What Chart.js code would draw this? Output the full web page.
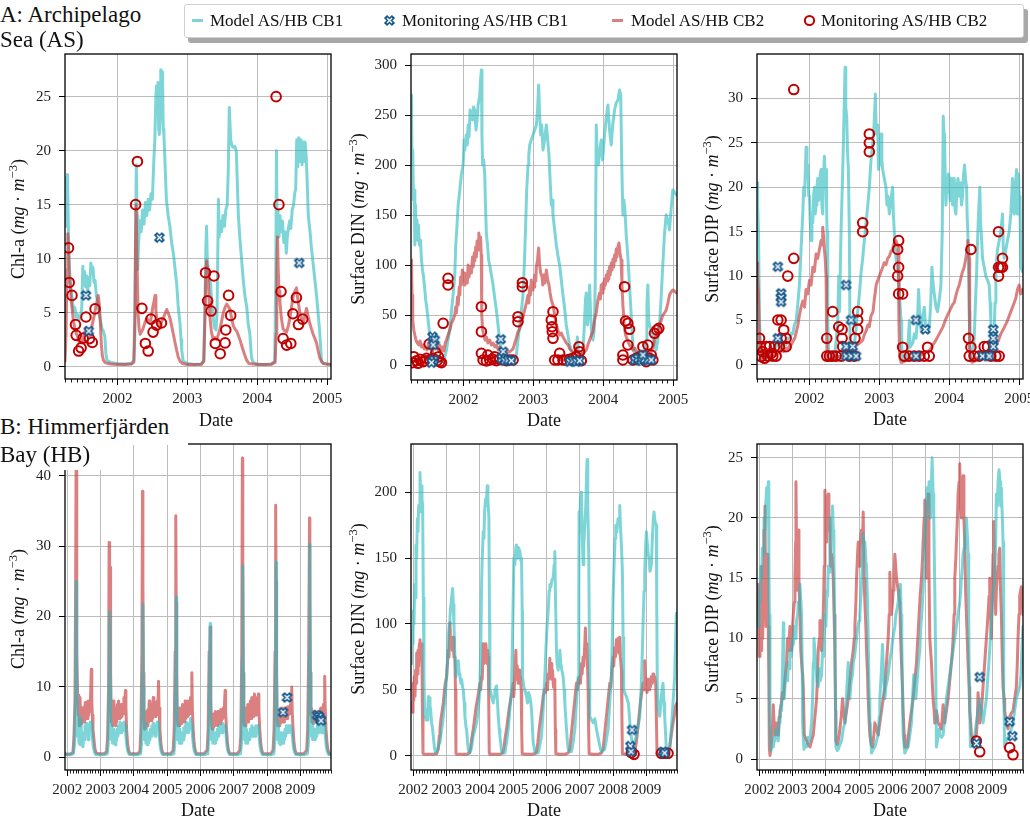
<!DOCTYPE html>
<html>
<head>
<meta charset="utf-8">
<script src="https://cdn.jsdelivr.net/npm/chart.js@4.4.0/dist/chart.umd.min.js"></script>
<style>
  body { margin: 0; background: #fff; width: 1030px; height: 820px; position: relative; overflow: hidden;
         font-family: "Liberation Serif", serif; color: #111; }
  canvas { position: absolute; }
  .ttl { position: absolute; left: 0; font-size: 23px; white-space: nowrap; z-index: 3; }
  .xlab { position: absolute; font-size: 18px; white-space: nowrap; transform: translate(-50%, -50%); z-index: 4; }
  .ylab { position: absolute; font-size: 18px; white-space: nowrap; transform: translate(-50%, -50%) rotate(-90deg); z-index: 2; }
  .ylab sup { font-size: 70%; line-height: 0; }
  #legend { position: absolute; left: 184px; top: 4px; width: 838px; height: 32px; border: 1px solid #d0d0d0;
            border-radius: 3px; background: #fff; box-shadow: 4px 5px 0 #a8a8a8; z-index: 3; }
  #legend .lt { position: absolute; top: 0; line-height: 31px; font-size: 17px; white-space: nowrap; }
  #legend .ln { position: absolute; top: 14px; width: 11px; height: 3px; }
  #legend svg { position: absolute; top: 9px; }
</style>
</head>
<body>

<div class="ttl" style="top:2px;line-height:26px">A: Archipelago</div>
<div class="ttl" style="top:27px;line-height:26px">Sea (AS)</div>
<div class="ttl" style="top:413px;width:188px;height:32px;line-height:28px;background:#fff">B: Himmerfjärden</div>
<div class="ttl" style="top:445px;width:103px;height:25px;line-height:20px;background:#fff">Bay (HB)</div>

<div id="legend">
  <div class="ln" style="left:7px;background:rgba(40,185,190,0.6)"></div>
  <span class="lt" style="left:25px">Model AS/HB CB1</span>
  <svg width="13" height="13" style="left:198px"><path d="M2.5 2.5L10.5 10.5M10.5 2.5L2.5 10.5" stroke="#15588a" stroke-width="4.5"/><path d="M4 4L9 9M9 4L4 9" stroke="#fff" stroke-width="1.3"/></svg>
  <span class="lt" style="left:217px">Monitoring AS/HB CB1</span>
  <div class="ln" style="left:427px;background:rgba(200,60,60,0.65)"></div>
  <span class="lt" style="left:446px">Model AS/HB CB2</span>
  <svg width="13" height="13" style="left:618px"><circle cx="6.5" cy="6.5" r="4.6" fill="none" stroke="#c00000" stroke-width="2"/></svg>
  <span class="lt" style="left:636px">Monitoring AS/HB CB2</span>
</div>

<div class="xlab" style="left:216px;top:420px">Date</div>

<div class="ylab" style="left:18px;top:219px">Chl-a (<i>mg</i> · <i>m</i><sup>−3</sup>)</div>
<div class="ylab" style="left:358px;top:219px">Surface DIN (<i>mg</i> · <i>m</i><sup>−3</sup>)</div>
<div class="ylab" style="left:712px;top:219px">Surface DIP (<i>mg</i> · <i>m</i><sup>−3</sup>)</div>
<div class="ylab" style="left:18px;top:609px">Chl-a (<i>mg</i> · <i>m</i><sup>−3</sup>)</div>
<div class="ylab" style="left:358px;top:609px">Surface DIN (<i>mg</i> · <i>m</i><sup>−3</sup>)</div>
<div class="ylab" style="left:712px;top:609px">Surface DIP (<i>mg</i> · <i>m</i><sup>−3</sup>)</div>

<script>
// ---- tick labels ----
const topYears = [2002, 2003, 2004, 2005];
const bottomYears = [2002, 2003, 2004, 2005, 2006, 2007, 2008, 2009];
const asChlTicks = [0, 5, 10, 15, 20, 25];
const asDinTicks = [0, 50, 100, 150, 200, 250, 300];
const asDipTicks = [0, 5, 10, 15, 20, 25, 30];
const hbChlTicks = [0, 10, 20, 30, 40];
const hbDinTicks = [0, 50, 100, 150, 200];
const hbDipTicks = [0, 5, 10, 15, 20, 25];

// ---- A: Archipelago Sea, [decimal year, value] ----
const asChlCb1 = [[2001.25,13],[2001.26,17.5],[2001.27,16.5],[2001.285,17.8],[2001.30,12],[2001.315,9],[2001.33,7.5],[2001.35,6.5],[2001.37,5.2],[2001.39,5.5],[2001.41,4.6],[2001.43,4.8],[2001.45,4.3],[2001.47,4.5],[2001.49,5.5],[2001.505,9.3],[2001.515,7.8],[2001.53,8.8],[2001.545,7.4],[2001.56,8.4],[2001.575,7.0],[2001.59,8.2],[2001.605,7.5],[2001.62,9.6],[2001.635,8.8],[2001.65,9.2],[2001.665,7.8],[2001.68,8.0],[2001.70,6.5],[2001.72,6.0],[2001.74,4.8],[2001.76,4.2],[2001.78,3.5],[2001.80,3.3],[2001.82,2.8],[2001.835,1.2],[2001.85,0.6],[2001.90,0.4],[2002.0,0.3],[2002.1,0.25],[2002.2,0.3],[2002.235,0.6],[2002.25,3],[2002.26,12],[2002.27,18.7],[2002.28,14],[2002.29,9],[2002.30,11],[2002.32,13.5],[2002.34,12.5],[2002.36,14.5],[2002.38,13.2],[2002.40,15.2],[2002.42,14],[2002.44,15.5],[2002.46,14.5],[2002.48,16],[2002.50,15.5],[2002.52,19],[2002.535,21],[2002.55,25],[2002.56,26],[2002.57,24.5],[2002.58,26.3],[2002.59,22],[2002.60,21.5],[2002.61,23],[2002.62,27.5],[2002.635,25],[2002.645,27.3],[2002.655,22],[2002.665,21.5],[2002.68,19],[2002.70,15.5],[2002.725,14],[2002.75,13],[2002.775,11.5],[2002.80,10.5],[2002.825,9],[2002.85,7.5],[2002.87,5.5],[2002.895,4],[2002.91,2.5],[2002.92,1.5],[2002.94,0.5],[2003.0,0.3],[2003.1,0.2],[2003.2,0.25],[2003.235,0.5],[2003.25,5],[2003.265,11],[2003.275,13],[2003.285,10],[2003.30,9],[2003.315,8],[2003.33,7.8],[2003.35,6],[2003.37,4.5],[2003.39,3.6],[2003.41,3.4],[2003.425,5],[2003.445,15.5],[2003.455,12],[2003.47,13.5],[2003.49,12.5],[2003.51,14],[2003.53,13],[2003.55,14.5],[2003.57,15],[2003.585,18],[2003.60,24],[2003.62,21],[2003.64,20.4],[2003.66,20.3],[2003.68,20.4],[2003.70,20],[2003.715,17],[2003.73,14],[2003.75,12],[2003.775,10],[2003.80,8],[2003.825,6.5],[2003.85,5.5],[2003.87,4],[2003.895,3],[2003.91,1.5],[2003.92,0.8],[2003.94,0.4],[2004.0,0.25],[2004.1,0.2],[2004.2,0.25],[2004.25,0.5],[2004.265,8],[2004.275,20],[2004.285,12],[2004.295,14.5],[2004.31,12],[2004.325,14],[2004.34,12.5],[2004.36,13.5],[2004.38,11.5],[2004.40,12.5],[2004.415,10.5],[2004.43,12],[2004.45,13],[2004.465,13.5],[2004.48,12.8],[2004.50,14.5],[2004.52,15],[2004.535,16],[2004.55,16.5],[2004.565,21],[2004.58,18.5],[2004.595,21.2],[2004.61,19],[2004.625,21],[2004.64,18.7],[2004.655,20.8],[2004.67,19],[2004.685,20.8],[2004.70,19.5],[2004.715,17],[2004.73,14],[2004.755,12.5],[2004.775,11],[2004.80,9.5],[2004.825,8],[2004.85,6.5],[2004.87,5],[2004.89,3.5],[2004.905,2],[2004.92,0.5],[2004.95,0.3],[2005.05,0.2]];
const asChlCb2 = [[2001.25,0.5],[2001.265,3],[2001.28,9],[2001.29,12.3],[2001.30,11],[2001.31,8.5],[2001.325,7.5],[2001.34,6],[2001.355,5.2],[2001.37,4.2],[2001.39,3.6],[2001.41,3.1],[2001.43,2.8],[2001.45,2.3],[2001.47,2.5],[2001.49,2.2],[2001.51,2.7],[2001.53,3.1],[2001.55,3.6],[2001.57,3.2],[2001.59,3.5],[2001.61,2.9],[2001.63,3.6],[2001.65,4.2],[2001.67,4.8],[2001.69,5.5],[2001.71,6.1],[2001.725,6.6],[2001.74,5.8],[2001.755,4.2],[2001.77,2],[2001.785,1],[2001.80,0.6],[2001.83,0.35],[2001.9,0.25],[2002.0,0.2],[2002.1,0.2],[2002.2,0.25],[2002.235,0.4],[2002.25,5],[2002.26,12],[2002.267,15],[2002.28,10],[2002.295,5],[2002.31,3.5],[2002.325,3],[2002.35,3.3],[2002.37,3.6],[2002.395,4.1],[2002.42,4.5],[2002.445,4.2],[2002.467,4],[2002.49,4.8],[2002.505,5.5],[2002.52,5.9],[2002.538,6.6],[2002.55,5.2],[2002.562,4.5],[2002.585,4],[2002.61,3.8],[2002.635,4.2],[2002.657,4.5],[2002.68,4.9],[2002.705,5.3],[2002.73,4.9],[2002.752,4.5],[2002.775,3.8],[2002.80,3],[2002.825,2.2],[2002.848,1.5],[2002.87,0.9],[2002.895,0.5],[2002.93,0.3],[2003.0,0.2],[2003.1,0.2],[2003.2,0.22],[2003.235,0.5],[2003.25,4],[2003.265,8.5],[2003.276,9.8],[2003.29,8.8],[2003.30,8],[2003.312,6],[2003.324,4.5],[2003.345,3.2],[2003.37,2.5],[2003.395,2.7],[2003.42,2.5],[2003.445,3],[2003.467,3.5],[2003.49,4.2],[2003.514,5],[2003.54,5.5],[2003.562,5.8],[2003.585,5.6],[2003.61,5.3],[2003.635,4.5],[2003.657,3.8],[2003.68,3.5],[2003.705,3.3],[2003.73,2.9],[2003.752,2.5],[2003.775,2],[2003.80,1.5],[2003.825,1],[2003.848,0.6],[2003.88,0.3],[2004.0,0.2],[2004.1,0.2],[2004.2,0.22],[2004.255,0.4],[2004.27,3],[2004.28,9],[2004.29,12],[2004.30,9],[2004.312,7],[2004.324,6],[2004.345,4.5],[2004.37,3.5],[2004.395,3.3],[2004.42,3.2],[2004.445,3.8],[2004.467,4.5],[2004.49,5.5],[2004.514,6.5],[2004.54,7],[2004.562,7.3],[2004.585,6],[2004.61,5],[2004.635,4.4],[2004.657,4],[2004.68,4.7],[2004.705,5.4],[2004.73,4.6],[2004.752,4],[2004.775,3.5],[2004.80,3],[2004.825,2.6],[2004.848,2.2],[2004.87,1.5],[2004.895,0.8],[2004.92,0.5],[2004.943,0.3],[2005.05,0.2]];
const asChlObsCb1 = [[2001.55,6.6],[2001.59,3.3],[2002.60,11.95],[2004.60,9.6]];
const asChlObsCb2 = [[2001.30,11.0],[2001.31,7.8],[2001.35,6.6],[2001.40,3.9],[2001.41,2.9],[2001.445,1.45],[2001.48,1.75],[2001.51,2.65],[2001.55,4.6],[2001.60,2.6],[2001.64,2.25],[2001.68,5.35],[2002.26,15],[2002.286,19],[2002.35,5.4],[2002.40,2.15],[2002.44,1.45],[2002.48,4.4],[2002.51,3.2],[2002.56,3.85],[2002.63,4.05],[2003.26,8.7],[2003.29,6.1],[2003.34,5.15],[2003.38,8.4],[2003.40,2.15],[2003.47,1.2],[2003.54,2.2],[2003.55,3.4],[2003.59,6.6],[2003.62,4.75],[2004.27,25],[2004.31,15],[2004.34,6.95],[2004.37,2.6],[2004.42,2.0],[2004.48,2.15],[2004.51,4.9],[2004.56,6.4],[2004.59,3.9],[2004.65,4.4]];

const asDinCb1 = [[2001.25,240],[2001.257,270],[2001.265,200],[2001.275,215],[2001.285,165],[2001.295,175],[2001.305,120],[2001.315,160],[2001.325,125],[2001.335,145],[2001.345,130],[2001.355,140],[2001.37,120],[2001.385,125],[2001.40,105],[2001.415,95],[2001.43,88],[2001.448,75],[2001.46,65],[2001.475,58],[2001.495,45],[2001.51,35],[2001.525,28],[2001.54,20],[2001.555,14],[2001.57,9],[2001.60,6],[2001.63,4],[2001.66,3],[2001.69,5],[2001.71,3],[2001.735,8],[2001.757,15],[2001.78,25],[2001.805,35],[2001.83,55],[2001.852,70],[2001.876,90],[2001.89,120],[2001.90,130],[2001.925,160],[2001.948,175],[2001.97,190],[2001.995,200],[2002.01,225],[2002.02,215],[2002.04,230],[2002.055,220],[2002.067,240],[2002.08,228],[2002.095,255],[2002.114,250],[2002.13,245],[2002.145,258],[2002.162,255],[2002.18,235],[2002.195,245],[2002.21,260],[2002.233,270],[2002.245,285],[2002.257,295],[2002.265,230],[2002.275,200],[2002.29,205],[2002.305,190],[2002.315,160],[2002.329,130],[2002.345,120],[2002.36,105],[2002.376,100],[2002.40,90],[2002.424,80],[2002.445,68],[2002.471,55],[2002.495,40],[2002.519,25],[2002.54,15],[2002.567,10],[2002.59,8],[2002.614,8],[2002.64,6],[2002.662,5],[2002.685,3],[2002.71,3],[2002.735,6],[2002.757,10],[2002.78,25],[2002.805,40],[2002.83,55],[2002.852,70],[2002.865,90],[2002.876,110],[2002.89,140],[2002.905,175],[2002.924,200],[2002.935,210],[2002.948,220],[2002.97,225],[2002.995,230],[2003.02,235],[2003.043,240],[2003.06,255],[2003.076,280],[2003.09,250],[2003.105,230],[2003.12,240],[2003.138,215],[2003.16,225],[2003.186,240],[2003.205,225],[2003.224,210],[2003.24,185],[2003.257,160],[2003.27,165],[2003.281,150],[2003.305,135],[2003.329,120],[2003.35,110],[2003.376,100],[2003.40,85],[2003.424,70],[2003.45,55],[2003.471,40],[2003.495,30],[2003.519,20],[2003.545,14],[2003.567,10],[2003.59,12],[2003.614,15],[2003.63,28],[2003.645,12],[2003.662,5],[2003.685,8],[2003.71,15],[2003.73,40],[2003.745,65],[2003.757,72],[2003.775,40],[2003.79,55],[2003.805,80],[2003.82,50],[2003.835,30],[2003.852,25],[2003.87,35],[2003.885,80],[2003.90,240],[2003.915,205],[2003.93,200],[2003.95,215],[2003.971,225],[2003.99,205],[2004.019,230],[2004.04,245],[2004.067,260],[2004.09,235],[2004.114,220],[2004.135,240],[2004.162,255],[2004.185,262],[2004.21,265],[2004.233,275],[2004.25,270],[2004.265,200],[2004.281,150],[2004.295,165],[2004.31,155],[2004.329,130],[2004.35,110],[2004.376,80],[2004.40,50],[2004.424,20],[2004.45,10],[2004.471,5],[2004.495,4],[2004.519,3],[2004.545,5],[2004.567,5],[2004.59,15],[2004.614,25],[2004.625,60],[2004.638,80],[2004.65,45],[2004.662,40],[2004.685,35],[2004.71,30],[2004.735,20],[2004.757,15],[2004.78,25],[2004.805,40],[2004.83,70],[2004.852,100],[2004.875,130],[2004.90,150],[2004.925,145],[2004.948,135],[2004.97,155],[2004.995,175],[2005.05,170]];
const asDinCb2 = [[2001.25,60],[2001.257,105],[2001.265,70],[2001.275,45],[2001.29,35],[2001.305,30],[2001.32,25],[2001.34,22],[2001.36,20],[2001.38,24],[2001.40,18],[2001.42,20],[2001.44,16],[2001.46,18],[2001.48,15],[2001.50,22],[2001.52,17],[2001.54,20],[2001.56,14],[2001.58,25],[2001.60,18],[2001.62,22],[2001.64,15],[2001.66,20],[2001.68,14],[2001.70,18],[2001.72,14],[2001.74,22],[2001.757,25],[2001.78,30],[2001.805,35],[2001.83,42],[2001.852,45],[2001.876,50],[2001.89,58],[2001.90,52],[2001.915,68],[2001.925,60],[2001.94,78],[2001.948,70],[2001.96,88],[2001.97,80],[2001.985,95],[2001.995,85],[2002.01,92],[2002.02,80],[2002.04,88],[2002.055,82],[2002.067,100],[2002.08,88],[2002.095,98],[2002.114,92],[2002.13,108],[2002.14,98],[2002.155,112],[2002.162,104],[2002.175,118],[2002.185,108],[2002.195,124],[2002.21,115],[2002.22,132],[2002.233,120],[2002.245,128],[2002.255,110],[2002.262,50],[2002.275,35],[2002.29,30],[2002.31,25],[2002.33,28],[2002.35,22],[2002.376,25],[2002.40,20],[2002.424,22],[2002.45,18],[2002.471,20],[2002.50,15],[2002.52,18],[2002.55,12],[2002.58,14],[2002.614,12],[2002.64,14],[2002.662,13],[2002.69,15],[2002.71,16],[2002.735,22],[2002.757,27],[2002.78,33],[2002.805,36],[2002.83,42],[2002.852,48],[2002.876,55],[2002.90,62],[2002.924,70],[2002.935,62],[2002.948,78],[2002.96,70],[2002.97,85],[2002.985,75],[2002.995,82],[2003.01,78],[2003.02,90],[2003.035,84],[2003.043,98],[2003.06,105],[2003.076,117],[2003.09,100],[2003.105,92],[2003.125,88],[2003.135,80],[2003.145,90],[2003.165,82],[2003.186,95],[2003.205,85],[2003.224,80],[2003.24,72],[2003.257,65],[2003.281,60],[2003.305,50],[2003.329,40],[2003.35,35],[2003.376,30],[2003.40,32],[2003.424,28],[2003.45,25],[2003.471,22],[2003.50,20],[2003.52,16],[2003.55,14],[2003.58,12],[2003.61,15],[2003.64,12],[2003.67,10],[2003.70,12],[2003.73,13],[2003.757,15],[2003.78,20],[2003.805,25],[2003.83,30],[2003.852,33],[2003.876,45],[2003.90,52],[2003.924,65],[2003.948,72],[2003.96,66],[2003.971,80],[2003.985,72],[2003.995,82],[2004.01,76],[2004.019,86],[2004.03,80],[2004.043,90],[2004.055,84],[2004.067,94],[2004.08,86],[2004.09,98],[2004.10,90],[2004.114,102],[2004.125,95],[2004.14,106],[2004.15,98],[2004.162,110],[2004.175,104],[2004.185,116],[2004.195,108],[2004.21,118],[2004.225,122],[2004.24,112],[2004.255,105],[2004.268,80],[2004.281,60],[2004.30,40],[2004.32,30],[2004.345,25],[2004.376,20],[2004.40,18],[2004.424,15],[2004.45,17],[2004.471,14],[2004.50,13],[2004.53,12],[2004.56,14],[2004.59,11],[2004.614,10],[2004.64,12],[2004.662,10],[2004.685,13],[2004.71,18],[2004.735,25],[2004.757,30],[2004.78,35],[2004.805,40],[2004.83,45],[2004.852,50],[2004.876,52],[2004.90,55],[2004.925,62],[2004.948,70],[2004.97,73],[2004.995,75],[2005.05,72]];
const asDinObsCb1 = [[2001.557,28.3],[2001.59,25],[2001.567,20],[2001.576,5],[2001.543,2.3],[2002.533,25.7],[2002.567,13.3],[2002.543,6.7],[2002.59,4.3],[2002.638,5],[2002.686,4.3],[2003.519,3.3],[2003.567,4.3],[2003.614,3.3],[2003.662,4.3],[2004.448,5],[2004.495,6.7],[2004.543,4.3],[2004.59,5.7],[2004.638,5],[2004.686,5],[2004.567,10]];
const asDinObsCb2 = [[2001.51,21],[2001.605,12.3],[2001.71,41.7],[2001.78,86.7],[2001.78,80],[2001.66,3.3],[2001.33,4.3],[2001.376,5.7],[2001.424,3.3],[2001.471,6.7],[2001.29,8.3],[2001.27,2.3],[2001.35,1.7],[2001.448,4.3],[2001.52,5],[2001.567,6.7],[2001.624,4.3],[2001.643,8.3],[2001.686,2.3],[2002.257,58.3],[2002.257,33.3],[2002.257,11.7],[2002.281,5],[2002.329,4],[2002.376,5],[2002.424,5.7],[2002.471,4.3],[2002.519,5.7],[2002.567,6.7],[2002.614,4.3],[2002.662,5],[2002.71,5],[2002.78,48.3],[2002.78,43.3],[2002.843,82.3],[2002.843,78.3],[2002.35,10],[2002.448,8.3],[2003.281,53.3],[2003.257,45],[2003.267,38.3],[2003.271,33.3],[2003.281,26.7],[2003.305,5],[2003.352,5],[2003.376,11.7],[2003.424,5],[2003.471,5],[2003.519,5.7],[2003.567,6.7],[2003.614,8.3],[2003.652,18.3],[2003.662,13.3],[2003.686,4.3],[2004.305,78.3],[2004.319,44],[2004.352,41.7],[2004.376,35.7],[2004.352,20],[2004.281,10],[2004.281,5],[2004.424,5],[2004.471,6.7],[2004.519,8.3],[2004.567,18.3],[2004.638,20],[2004.662,6.7],[2004.71,5],[2004.733,31.7],[2004.767,35],[2004.795,36.7],[2004.614,3.3],[2004.686,10]];

const asDipCb1 = [[2001.25,20.5],[2001.26,18],[2001.271,15],[2001.286,5],[2001.30,2],[2001.333,0.8],[2001.36,1.2],[2001.381,0.8],[2001.405,1.3],[2001.429,1],[2001.45,1.6],[2001.476,1.5],[2001.50,2.2],[2001.524,2],[2001.55,2.8],[2001.571,2.5],[2001.595,1.8],[2001.619,2],[2001.645,2.6],[2001.667,2.3],[2001.69,3],[2001.714,3],[2001.74,3.6],[2001.762,3.5],[2001.785,4.5],[2001.81,5],[2001.835,7],[2001.857,9],[2001.88,13],[2001.905,17],[2001.918,20],[2001.93,19],[2001.952,24.5],[2001.965,22],[2001.976,22.5],[2001.99,19],[2002.0,19],[2002.012,16],[2002.024,14],[2002.036,16.5],[2002.048,16],[2002.06,19],[2002.071,20],[2002.083,17],[2002.095,18],[2002.107,20],[2002.119,21],[2002.131,18.5],[2002.143,19],[2002.155,21.5],[2002.167,22],[2002.178,18],[2002.19,17],[2002.202,21],[2002.214,23.5],[2002.226,21],[2002.238,22],[2002.245,18],[2002.252,15],[2002.262,5],[2002.276,1],[2002.31,0.5],[2002.335,0.8],[2002.357,1],[2002.38,2.5],[2002.405,5],[2002.42,10],[2002.43,6],[2002.452,15],[2002.47,20],[2002.486,25],[2002.51,33.5],[2002.52,29],[2002.533,28],[2002.545,24],[2002.557,22],[2002.571,15],[2002.581,2.5],[2002.595,1],[2002.619,1.5],[2002.645,2.5],[2002.667,4],[2002.69,6],[2002.715,8],[2002.74,10.5],[2002.762,12],[2002.785,14],[2002.81,16],[2002.835,18],[2002.857,20],[2002.88,23],[2002.905,25],[2002.925,27],[2002.943,30.5],[2002.955,26],[2002.976,27],[2002.988,22],[2003.0,24],[2003.012,22.5],[2003.024,26],[2003.036,23],[2003.048,22],[2003.07,21],[2003.095,20],[2003.11,18],[2003.125,19],[2003.143,17],[2003.165,18.5],[2003.19,20],[2003.2,17],[2003.214,15],[2003.225,13],[2003.238,12],[2003.255,11],[2003.276,10],[2003.295,7],[2003.31,5],[2003.32,2],[2003.333,1],[2003.355,0.5],[2003.381,0.5],[2003.405,1.5],[2003.429,5],[2003.44,2],[2003.452,2],[2003.48,2.5],[2003.50,3.5],[2003.524,3],[2003.545,5],[2003.562,8.5],[2003.575,6],[2003.595,4],[2003.62,5.5],[2003.643,6.5],[2003.66,4.5],[2003.676,4],[2003.695,4.5],[2003.714,4],[2003.735,7],[2003.752,11],[2003.77,9],[2003.786,8],[2003.81,6.5],[2003.833,6],[2003.86,7.5],[2003.881,9],[2003.9,15],[2003.914,28],[2003.925,26],[2003.933,25],[2003.945,20],[2003.952,18],[2003.965,20],[2003.976,19.5],[2003.988,21.5],[2004.0,21],[2004.012,18.5],[2004.024,19],[2004.036,21],[2004.048,18],[2004.06,20],[2004.071,21],[2004.083,17.5],[2004.095,17],[2004.11,20],[2004.125,21],[2004.143,19],[2004.16,20.5],[2004.175,18],[2004.19,19],[2004.205,21.5],[2004.219,22.5],[2004.232,21],[2004.248,20],[2004.255,17],[2004.262,17],[2004.27,14],[2004.276,14],[2004.285,6],[2004.295,2],[2004.31,1],[2004.324,0.5],[2004.34,1.5],[2004.357,3],[2004.375,7],[2004.39,10],[2004.405,14],[2004.419,17],[2004.438,20],[2004.447,16],[2004.457,15],[2004.476,12],[2004.50,11],[2004.524,10],[2004.55,9.5],[2004.571,9],[2004.585,7],[2004.595,5],[2004.607,3],[2004.619,1.5],[2004.63,2.5],[2004.643,4],[2004.655,7],[2004.667,10],[2004.68,12],[2004.69,13],[2004.715,14],[2004.738,15],[2004.75,16],[2004.762,17],[2004.774,13],[2004.786,12],[2004.81,13],[2004.833,14],[2004.857,15],[2004.881,17],[2004.893,19],[2004.905,21],[2004.917,18],[2004.929,17],[2004.945,20],[2004.962,22],[2004.972,17],[2004.981,18],[2004.99,21.5],[2005.0,19],[2005.012,18],[2005.024,11],[2005.05,10.5]];
const asDipCb2 = [[2001.25,9],[2001.255,11.5],[2001.262,10],[2001.271,8],[2001.286,2],[2001.30,0.5],[2001.33,0.6],[2001.36,0.9],[2001.381,0.7],[2001.41,1.1],[2001.44,0.9],[2001.476,1.3],[2001.51,1.1],[2001.54,1.5],[2001.571,1.3],[2001.60,1.7],[2001.63,1.5],[2001.667,1.9],[2001.70,1.8],[2001.714,2.2],[2001.74,2.3],[2001.762,2.6],[2001.79,3],[2001.81,3.6],[2001.835,4.5],[2001.857,5.6],[2001.88,6.5],[2001.905,7.2],[2001.93,6.5],[2001.952,8.5],[2001.976,8],[2002.0,9.5],[2002.024,9],[2002.048,11],[2002.071,10.5],[2002.095,12.5],[2002.119,12],[2002.143,13],[2002.167,14],[2002.18,13.5],[2002.19,15.5],[2002.202,14.5],[2002.214,13],[2002.226,12],[2002.238,10],[2002.245,4],[2002.252,1],[2002.276,0.5],[2002.31,0.6],[2002.357,0.8],[2002.405,0.9],[2002.452,1],[2002.50,1.3],[2002.55,1.5],[2002.595,1.6],[2002.64,2],[2002.69,2.3],[2002.74,2.6],[2002.762,2.8],[2002.79,3.5],[2002.81,3.8],[2002.835,4.5],[2002.857,4.3],[2002.88,5.5],[2002.91,6],[2002.93,7.5],[2002.955,9],[2002.976,9.5],[2003.0,10],[2003.024,10.5],[2003.048,11],[2003.07,11.5],[2003.095,11.3],[2003.12,12],[2003.143,12.2],[2003.167,12.8],[2003.19,13],[2003.214,13.8],[2003.238,14],[2003.255,13.6],[2003.27,13.2],[2003.28,5],[2003.29,1],[2003.31,0.3],[2003.333,0.3],[2003.381,0.5],[2003.429,0.6],[2003.476,0.8],[2003.524,0.9],[2003.571,1],[2003.62,1.2],[2003.667,1.5],[2003.714,1.6],[2003.762,2.2],[2003.81,2.8],[2003.857,3.5],[2003.905,4.2],[2003.952,5.2],[2004.0,6],[2004.048,6.8],[2004.071,7],[2004.095,7.8],[2004.119,8.5],[2004.143,9],[2004.167,9.8],[2004.19,10.5],[2004.214,11],[2004.238,12],[2004.255,13],[2004.265,14],[2004.276,13],[2004.285,12],[2004.29,4],[2004.295,1],[2004.324,0.3],[2004.357,0.4],[2004.405,0.8],[2004.452,1],[2004.50,1.2],[2004.55,1.5],[2004.595,1.8],[2004.643,2],[2004.69,2.5],[2004.738,3.5],[2004.786,4.2],[2004.833,5],[2004.881,6],[2004.929,7],[2004.952,7.5],[2004.976,8.5],[2005.0,9],[2005.024,8],[2005.05,8.5]];
const asDipObsCb1 = [[2001.548,11.06],[2001.595,8.06],[2001.595,7.6],[2001.595,7.1],[2001.548,3],[2002.524,9],[2002.595,5.06],[2002.524,2.06],[2002.619,2.06],[2002.524,1],[2002.595,1],[2002.667,1],[2003.524,5.06],[2003.657,4],[2003.524,1],[2004.476,1],[2004.571,1],[2004.629,4],[2004.629,3],[2004.629,2.06]];
const asDipObsCb2 = [[2001.286,3],[2001.295,2.06],[2001.31,0.94],[2001.333,1.5],[2001.357,0.75],[2001.381,2.06],[2001.429,2.06],[2001.452,1.3],[2001.50,2.06],[2001.405,1],[2001.476,1],[2001.524,1],[2001.548,5.06],[2001.595,5.06],[2001.595,3],[2001.571,2.06],[2001.633,3.94],[2001.667,3],[2001.667,2.06],[2001.69,10],[2001.776,31],[2001.776,12],[2002.248,3],[2002.248,1],[2002.286,1],[2002.333,1],[2002.381,1],[2002.333,6],[2002.419,4.3],[2002.467,4],[2002.467,3],[2002.476,2.06],[2002.69,6],[2002.69,5.06],[2002.69,4],[2002.652,3],[2002.762,16],[2002.762,15],[2002.857,26],[2002.857,25],[2002.857,24],[2002.571,1],[2002.643,1],[2002.452,1],[2003.262,13],[2003.276,14],[2003.276,11],[2003.262,10],[2003.276,8],[2003.333,8],[2003.333,2],[2003.357,1],[2003.429,1],[2003.5,1],[2003.571,1],[2003.643,1],[2003.714,1],[2003.69,2],[2004.276,3],[2004.31,13],[2004.31,2],[2004.286,1],[2004.357,1],[2004.429,1],[2004.5,2.06],[2004.548,2.06],[2004.595,1],[2004.667,1],[2004.714,1],[2004.705,15],[2004.705,11],[2004.705,10],[2004.762,12],[2004.762,11],[2004.735,11]];

// ---- B: Himmerfjärden Bay ----
const hbChlCb1 = [[2001.93,0.4],[2002.1,0.35],[2002.18,0.5],[2002.22,2],[2002.25,10],[2002.268,25],[2002.28,15],[2002.295,6],[2002.31,3],[2002.33,5.5],[2002.35,2],[2002.37,4.5],[2002.39,1.8],[2002.41,5.5],[2002.43,2],[2002.45,3],[2002.47,1.5],[2002.49,3.5],[2002.51,2.5],[2002.53,4.5],[2002.55,3.5],[2002.57,4.8],[2002.59,3.5],[2002.61,4.5],[2002.63,2.5],[2002.65,4],[2002.67,4.5],[2002.69,5],[2002.71,4],[2002.73,5],[2002.75,3],[2002.78,1.5],[2002.81,0.8],[2002.85,0.4],[2002.95,0.35],
  [2003.1,0.35],[2003.2,0.5],[2003.23,2],[2003.255,12],[2003.27,20.7],[2003.285,10],[2003.30,5],[2003.32,2.5],[2003.34,4.5],[2003.36,2],[2003.38,4],[2003.40,2],[2003.42,3.5],[2003.44,1.8],[2003.46,3],[2003.48,2.5],[2003.50,4],[2003.52,3],[2003.54,4.5],[2003.56,3.5],[2003.58,5],[2003.60,4],[2003.62,4.8],[2003.64,3.5],[2003.66,4.5],[2003.68,3.8],[2003.70,5],[2003.72,4],[2003.74,4.5],[2003.76,3],[2003.79,1.5],[2003.82,0.8],[2003.86,0.4],
  [2004.1,0.35],[2004.2,0.5],[2004.23,2],[2004.255,12],[2004.27,21.7],[2004.285,10],[2004.30,5],[2004.32,2.5],[2004.34,4.8],[2004.36,2],[2004.38,4],[2004.40,1.8],[2004.42,3.5],[2004.44,2],[2004.46,3.5],[2004.48,2.5],[2004.50,4],[2004.52,3],[2004.54,4.5],[2004.56,3.5],[2004.58,4.8],[2004.60,3.5],[2004.62,4.5],[2004.64,3],[2004.66,4.5],[2004.68,4],[2004.70,5],[2004.72,4],[2004.74,4.8],[2004.76,3],[2004.79,1.5],[2004.82,0.8],[2004.86,0.4],
  [2005.1,0.35],[2005.2,0.5],[2005.23,2],[2005.255,12],[2005.27,22.8],[2005.285,10],[2005.30,5],[2005.32,2.5],[2005.34,4.5],[2005.36,2],[2005.38,4],[2005.40,2],[2005.42,3.5],[2005.44,2],[2005.46,3.5],[2005.48,2.5],[2005.50,4.2],[2005.52,3],[2005.54,4.5],[2005.56,3.5],[2005.58,5],[2005.60,3.8],[2005.62,4.8],[2005.64,3.5],[2005.66,4.5],[2005.68,4],[2005.70,5.5],[2005.72,4],[2005.74,4.8],[2005.76,3],[2005.79,1.5],[2005.82,0.8],[2005.86,0.4],
  [2006.1,0.35],[2006.22,0.5],[2006.25,3],[2006.275,12],[2006.29,19],[2006.30,10],[2006.315,5],[2006.33,2.5],[2006.35,4],[2006.37,2],[2006.39,3.5],[2006.41,2],[2006.43,3.5],[2006.45,2],[2006.47,3],[2006.49,2.5],[2006.51,4],[2006.53,3],[2006.55,4.5],[2006.57,3.5],[2006.59,4.5],[2006.61,3.5],[2006.63,4.5],[2006.65,3.5],[2006.67,4.8],[2006.69,4],[2006.71,4.5],[2006.73,4],[2006.75,4.5],[2006.77,3],[2006.80,1.5],[2006.83,0.8],[2006.87,0.4],
  [2007.1,0.35],[2007.2,0.5],[2007.23,2],[2007.255,14],[2007.27,27.2],[2007.285,12],[2007.30,5],[2007.32,2.5],[2007.34,4.5],[2007.36,2],[2007.38,4],[2007.40,2],[2007.42,3.5],[2007.44,2.5],[2007.46,3.5],[2007.48,2.5],[2007.50,4],[2007.52,3],[2007.54,4.5],[2007.56,3],[2007.58,4.2],[2007.60,3],[2007.62,4],[2007.64,3],[2007.66,4.5],[2007.68,3.5],[2007.70,4.5],[2007.72,4],[2007.74,4.5],[2007.76,3],[2007.79,1.5],[2007.82,0.8],[2007.86,0.4],
  [2008.1,0.35],[2008.2,0.5],[2008.23,2],[2008.255,14],[2008.27,27.7],[2008.285,12],[2008.30,5],[2008.32,2.5],[2008.34,4.5],[2008.36,2],[2008.38,3.5],[2008.40,1.8],[2008.42,3.5],[2008.44,2],[2008.46,3],[2008.48,2],[2008.50,3.5],[2008.52,2.5],[2008.54,4],[2008.56,3],[2008.58,4.5],[2008.60,3.5],[2008.62,4.5],[2008.64,3.5],[2008.66,4.5],[2008.68,4],[2008.70,4.5],[2008.72,3.5],[2008.74,4],[2008.76,3],[2008.79,1.5],[2008.82,0.8],[2008.86,0.4],
  [2009.1,0.35],[2009.21,0.5],[2009.24,2],[2009.27,15],[2009.285,30.3],[2009.30,12],[2009.315,5],[2009.33,3],[2009.35,5],[2009.37,2.5],[2009.39,4],[2009.41,2.5],[2009.43,4],[2009.45,2.5],[2009.47,3.5],[2009.49,3],[2009.51,4.5],[2009.53,3.5],[2009.55,4.5],[2009.57,3.5],[2009.59,4.8],[2009.61,4],[2009.63,4.5],[2009.65,3.5],[2009.67,4.5],[2009.69,4],[2009.71,4.8],[2009.73,4],[2009.75,3],[2009.78,1.5],[2009.81,0.8],[2009.85,0.4],[2009.92,0.35]];
const hbChlCb2 = [[2001.93,0.5],[2002.0,0.45],[2002.1,0.5],[2002.17,0.7],[2002.2,3],[2002.23,8],[2002.25,25],[2002.262,41],[2002.275,30],[2002.29,15],[2002.31,8.5],[2002.33,6],[2002.345,8.8],[2002.36,4.5],[2002.38,8.5],[2002.40,5.5],[2002.42,7],[2002.44,4.8],[2002.46,6.5],[2002.48,5.2],[2002.50,7.2],[2002.52,5],[2002.54,7.8],[2002.56,5.6],[2002.58,7.5],[2002.60,5.5],[2002.62,8],[2002.64,6],[2002.66,7.8],[2002.68,6.5],[2002.70,9],[2002.72,12.5],[2002.735,8],[2002.75,6],[2002.77,4],[2002.80,2.5],[2002.83,1.2],[2002.87,0.6],[2002.95,0.5],
  [2003.1,0.5],[2003.18,0.8],[2003.21,3],[2003.24,10],[2003.255,30.5],[2003.27,20],[2003.285,27],[2003.30,12],[2003.32,5],[2003.34,7.5],[2003.36,4.5],[2003.38,8],[2003.40,5],[2003.42,6.5],[2003.44,4.5],[2003.46,7],[2003.48,5],[2003.50,7.5],[2003.52,5.5],[2003.54,8],[2003.56,5.5],[2003.58,7.2],[2003.60,5.6],[2003.62,7.5],[2003.64,5.8],[2003.66,7],[2003.68,6.2],[2003.70,8.5],[2003.72,6.5],[2003.745,9.5],[2003.76,7],[2003.78,4],[2003.81,2],[2003.84,1],[2003.88,0.5],
  [2004.1,0.5],[2004.18,0.8],[2004.21,4],[2004.24,15],[2004.258,37.8],[2004.27,25],[2004.285,12],[2004.30,6],[2004.32,4],[2004.34,6.5],[2004.36,4.2],[2004.38,6.5],[2004.40,4.5],[2004.42,6.8],[2004.44,5],[2004.46,8],[2004.48,5.5],[2004.50,7],[2004.52,5.2],[2004.54,7.5],[2004.56,5.5],[2004.58,8.5],[2004.60,6],[2004.62,7.5],[2004.64,5.8],[2004.66,7.8],[2004.68,6],[2004.70,8],[2004.72,7],[2004.74,10.8],[2004.755,7],[2004.78,4],[2004.81,2],[2004.84,1],[2004.88,0.5],
  [2005.1,0.5],[2005.18,1],[2005.21,4],[2005.24,15],[2005.258,34.3],[2005.27,22],[2005.285,12],[2005.30,6],[2005.32,4.5],[2005.34,5.5],[2005.36,4.5],[2005.38,7],[2005.40,5],[2005.42,6.5],[2005.44,4.8],[2005.46,7.5],[2005.48,5.5],[2005.50,7],[2005.52,5],[2005.54,8],[2005.56,5.5],[2005.58,7.5],[2005.60,5.8],[2005.62,8],[2005.64,6],[2005.66,7.5],[2005.68,6.2],[2005.70,8.5],[2005.72,7],[2005.74,12],[2005.755,7],[2005.78,4],[2005.81,2],[2005.84,1],[2005.88,0.5],
  [2006.1,0.5],[2006.2,1],[2006.23,4],[2006.26,15],[2006.275,12],[2006.29,18.5],[2006.30,12],[2006.315,8],[2006.33,5],[2006.35,4],[2006.37,6],[2006.39,4.2],[2006.41,6.2],[2006.43,4.5],[2006.45,6.5],[2006.47,4.8],[2006.49,6],[2006.51,4.5],[2006.53,6.5],[2006.55,5],[2006.57,6],[2006.59,4.8],[2006.61,6.8],[2006.63,5.2],[2006.65,6.5],[2006.67,5.5],[2006.69,7],[2006.71,6.5],[2006.74,9.5],[2006.755,6.5],[2006.78,4],[2006.81,2],[2006.84,1],[2006.88,0.5],
  [2007.1,0.5],[2007.18,1],[2007.21,3],[2007.24,15],[2007.258,42.5],[2007.27,28],[2007.285,12],[2007.30,5],[2007.32,4.5],[2007.34,6.5],[2007.36,4.5],[2007.38,7],[2007.40,5],[2007.42,7.5],[2007.44,5],[2007.46,6.5],[2007.48,5.5],[2007.50,8],[2007.52,5.5],[2007.54,8.5],[2007.56,6],[2007.58,8],[2007.60,5.8],[2007.62,9],[2007.64,6],[2007.66,8],[2007.68,6],[2007.70,8.5],[2007.72,6.5],[2007.74,9],[2007.755,6.5],[2007.78,4],[2007.81,2],[2007.84,1],[2007.88,0.5],
  [2008.1,0.5],[2008.18,1],[2008.21,4],[2008.24,15],[2008.258,35.8],[2008.27,25],[2008.285,12],[2008.30,6],[2008.32,4.5],[2008.34,6],[2008.36,4.5],[2008.38,6.5],[2008.40,4.8],[2008.42,6.5],[2008.44,5],[2008.46,7],[2008.48,5],[2008.50,6.5],[2008.52,5],[2008.54,7],[2008.56,5.5],[2008.58,6.8],[2008.60,5.5],[2008.62,7.2],[2008.64,6],[2008.66,7],[2008.68,6.2],[2008.70,7.5],[2008.72,6.5],[2008.74,10],[2008.755,6.5],[2008.78,4],[2008.81,2],[2008.84,1],[2008.88,0.5],
  [2009.1,0.5],[2009.19,1],[2009.22,4],[2009.25,15],[2009.275,34],[2009.285,22],[2009.30,12],[2009.315,6],[2009.33,7],[2009.35,5],[2009.37,6.5],[2009.39,4.8],[2009.41,6],[2009.43,5.5],[2009.45,6.5],[2009.47,5],[2009.49,6],[2009.51,5.5],[2009.53,6.5],[2009.55,5],[2009.57,6.5],[2009.59,5.5],[2009.61,7],[2009.63,5.8],[2009.65,7],[2009.67,6],[2009.69,7.5],[2009.71,7],[2009.73,11.5],[2009.745,7],[2009.77,4],[2009.80,2],[2009.83,1],[2009.87,0.5],[2009.92,0.5]];
const hbChlObsCb1 = [[2008.48,6.4],[2008.60,8.5],[2009.50,6.0],[2009.56,5.8],[2009.60,5.4],[2009.62,5.2]];
const hbChlObsCb2 = [];

const hbDinCb1 = [[2001.93,70],[2001.95,80],[2001.97,95],[2001.99,85],[2002.0,110],[2002.02,100],[2002.04,130],[2002.06,120],[2002.08,160],[2002.10,150],[2002.12,180],[2002.14,170],[2002.16,190],[2002.18,185],[2002.20,215],[2002.22,200],[2002.24,205],[2002.26,195],[2002.28,190],[2002.30,120],[2002.32,60],[2002.34,30],[2002.36,35],[2002.38,27],[2002.40,30],[2002.42,27],[2002.44,40],[2002.46,45],[2002.48,44],[2002.50,38],[2002.52,35],[2002.55,25],[2002.58,20],[2002.61,12],[2002.64,5],[2002.67,2],[2002.70,3],[2002.73,5],[2002.76,8],[2002.80,10],[2002.84,18],[2002.88,25],[2002.92,35],[2002.96,45],[2003.0,60],[2003.03,75],[2003.05,90],[2003.08,100],[2003.10,105],[2003.12,112],[2003.15,120],[2003.18,127],[2003.20,115],[2003.22,100],[2003.25,75],[2003.28,60],[2003.30,68],[2003.33,65],[2003.35,72],[2003.38,62],[2003.40,60],[2003.43,55],[2003.45,58],[2003.48,52],[2003.50,50],[2003.53,40],[2003.55,30],[2003.58,22],[2003.60,20],[2003.63,10],[2003.65,5],[2003.68,2],[2003.72,3],[2003.76,8],[2003.80,15],[2003.85,20],[2003.90,25],[2003.95,35],[2004.0,50],[2004.03,90],[2004.05,130],[2004.07,150],[2004.10,170],[2004.12,165],[2004.14,185],[2004.17,195],[2004.19,190],[2004.22,205],[2004.24,195],[2004.27,180],[2004.29,100],[2004.30,50],[2004.33,48],[2004.35,45],[2004.38,42],[2004.40,40],[2004.43,45],[2004.45,50],[2004.48,52],[2004.50,53],[2004.53,40],[2004.55,30],[2004.58,20],[2004.60,15],[2004.63,8],[2004.65,3],[2004.70,2],[2004.75,2],[2004.80,10],[2004.85,20],[2004.90,35],[2004.95,50],[2004.98,90],[2005.02,150],[2005.05,145],[2005.08,158],[2005.10,160],[2005.13,150],[2005.16,158],[2005.20,155],[2005.23,148],[2005.25,150],[2005.27,110],[2005.28,60],[2005.32,52],[2005.35,50],[2005.38,47],[2005.40,45],[2005.43,40],[2005.46,48],[2005.50,45],[2005.53,40],[2005.55,35],[2005.58,20],[2005.60,10],[2005.65,3],[2005.70,2],[2005.75,2],[2005.80,8],[2005.85,15],[2005.90,35],[2005.95,60],[2005.98,80],[2006.02,100],[2006.05,110],[2006.08,125],[2006.10,130],[2006.13,128],[2006.16,133],[2006.20,135],[2006.23,145],[2006.25,155],[2006.27,120],[2006.30,80],[2006.32,70],[2006.35,65],[2006.38,75],[2006.40,80],[2006.43,70],[2006.46,65],[2006.50,60],[2006.53,50],[2006.55,40],[2006.58,28],[2006.60,20],[2006.63,10],[2006.65,5],[2006.70,3],[2006.75,3],[2006.80,10],[2006.85,20],[2006.90,40],[2006.95,60],[2006.97,120],[2006.98,185],[2007.0,170],[2007.02,195],[2007.05,200],[2007.07,170],[2007.10,145],[2007.12,160],[2007.15,175],[2007.18,190],[2007.20,210],[2007.22,225],[2007.24,190],[2007.27,150],[2007.29,80],[2007.30,30],[2007.33,28],[2007.35,27],[2007.38,26],[2007.40,25],[2007.43,27],[2007.45,28],[2007.48,24],[2007.50,20],[2007.54,15],[2007.58,10],[2007.62,5],[2007.65,3],[2007.70,4],[2007.75,5],[2007.80,12],[2007.85,20],[2007.90,40],[2007.95,60],[2007.98,90],[2008.0,120],[2008.03,145],[2008.06,165],[2008.08,175],[2008.11,170],[2008.15,180],[2008.18,175],[2008.20,190],[2008.22,175],[2008.25,160],[2008.28,140],[2008.30,90],[2008.32,50],[2008.35,48],[2008.38,46],[2008.40,45],[2008.43,42],[2008.46,40],[2008.49,30],[2008.52,20],[2008.56,12],[2008.60,8],[2008.65,10],[2008.70,15],[2008.75,22],[2008.80,30],[2008.85,55],[2008.88,80],[2008.90,100],[2008.93,125],[2008.95,140],[2008.98,160],[2009.0,170],[2009.03,160],[2009.06,152],[2009.08,150],[2009.11,140],[2009.15,145],[2009.18,165],[2009.21,180],[2009.23,185],[2009.26,178],[2009.30,175],[2009.31,120],[2009.33,50],[2009.36,35],[2009.40,30],[2009.43,38],[2009.45,45],[2009.48,52],[2009.50,55],[2009.53,40],[2009.55,30],[2009.58,15],[2009.60,5],[2009.65,4],[2009.70,5],[2009.75,20],[2009.80,40],[2009.85,60],[2009.90,108],[2009.92,105]];
const hbDinCb2 = [[2001.93,35],[2001.95,40],[2001.97,33],[2001.99,55],[2002.01,42],[2002.03,60],[2002.05,45],[2002.07,65],[2002.09,55],[2002.10,78],[2002.12,62],[2002.14,80],[2002.16,68],[2002.18,85],[2002.20,88],[2002.22,75],[2002.24,85],[2002.26,70],[2002.275,30],[2002.29,2],[2002.32,1],[2002.45,1],[2002.60,1],[2002.70,1.5],[2002.75,5],[2002.78,15],[2002.80,20],[2002.83,28],[2002.86,33],[2002.90,40],[2002.93,48],[2002.96,55],[2003.0,60],[2003.02,68],[2003.05,80],[2003.07,75],[2003.10,101],[2003.12,85],[2003.15,90],[2003.17,80],[2003.20,90],[2003.22,75],[2003.25,75],[2003.265,50],[2003.28,2],[2003.30,1],[2003.45,1],[2003.60,1],[2003.68,2],[2003.72,6],[2003.76,14],[2003.80,20],[2003.84,28],[2003.88,36],[2003.92,42],[2003.96,48],[2004.0,55],[2004.02,50],[2004.05,60],[2004.07,58],[2004.10,85],[2004.12,70],[2004.14,84],[2004.16,72],[2004.18,85],[2004.21,70],[2004.23,80],[2004.25,75],[2004.265,40],[2004.28,2],[2004.30,1],[2004.45,1],[2004.60,1],[2004.68,2],[2004.72,6],[2004.76,14],[2004.80,20],[2004.84,28],[2004.88,36],[2004.92,42],[2004.96,48],[2005.0,55],[2005.02,45],[2005.05,62],[2005.08,80],[2005.10,58],[2005.12,68],[2005.15,55],[2005.18,65],[2005.20,55],[2005.22,60],[2005.24,50],[2005.255,20],[2005.27,1.5],[2005.40,1],[2005.55,1],[2005.65,1.5],[2005.70,3],[2005.74,10],[2005.78,20],[2005.82,28],[2005.86,36],[2005.90,45],[2005.94,50],[2005.97,48],[2006.0,55],[2006.03,50],[2006.05,62],[2006.07,58],[2006.10,74],[2006.12,60],[2006.14,70],[2006.16,58],[2006.18,65],[2006.21,52],[2006.23,58],[2006.25,55],[2006.265,20],[2006.28,1.5],[2006.40,1],[2006.55,1],[2006.65,2],[2006.70,5],[2006.74,15],[2006.78,25],[2006.82,35],[2006.86,45],[2006.90,55],[2006.93,50],[2006.96,58],[2007.0,60],[2007.02,55],[2007.05,70],[2007.07,62],[2007.10,75],[2007.12,68],[2007.15,85],[2007.17,97],[2007.19,75],[2007.21,85],[2007.23,70],[2007.25,50],[2007.265,20],[2007.28,1.5],[2007.40,1],[2007.55,1],[2007.65,2],[2007.70,5],[2007.74,15],[2007.78,25],[2007.82,35],[2007.86,45],[2007.90,55],[2007.93,52],[2007.96,65],[2008.0,75],[2008.02,68],[2008.05,82],[2008.07,75],[2008.10,88],[2008.12,80],[2008.15,89],[2008.17,78],[2008.20,90],[2008.22,75],[2008.25,65],[2008.265,30],[2008.28,1.5],[2008.40,1],[2008.55,1],[2008.65,3],[2008.70,10],[2008.74,20],[2008.78,30],[2008.82,40],[2008.86,48],[2008.90,55],[2008.93,50],[2008.95,72],[2008.97,60],[2009.0,55],[2009.02,48],[2009.05,58],[2009.08,50],[2009.10,58],[2009.12,52],[2009.15,60],[2009.18,55],[2009.20,62],[2009.22,58],[2009.25,60],[2009.28,55],[2009.30,30],[2009.32,1.5],[2009.45,1],[2009.60,1],[2009.68,3],[2009.72,10],[2009.76,18],[2009.80,25],[2009.85,32],[2009.88,38],[2009.92,40]];
const hbDinObsCb1 = [[2008.57,19.5],[2008.52,7.3],[2008.54,3],[2009.50,3],[2009.55,2]];
const hbDinObsCb2 = [[2008.55,2.3],[2008.63,1],[2009.45,1.8],[2009.55,1.8],[2009.65,1.8]];

const hbDipCb1 = [[2001.94,12],[2001.97,11],[2001.99,14],[2002.02,13],[2002.04,16],[2002.07,15],[2002.09,17.5],[2002.12,17],[2002.14,20],[2002.17,19],[2002.19,21],[2002.22,22.5],[2002.245,21],[2002.27,23],[2002.285,18],[2002.30,12],[2002.32,3],[2002.35,0.7],[2002.38,1.2],[2002.42,1],[2002.45,1.8],[2002.47,1.5],[2002.50,2.5],[2002.52,2],[2002.55,2.5],[2002.57,1.5],[2002.60,3.5],[2002.62,3],[2002.65,4.5],[2002.67,4],[2002.70,8],[2002.72,11.3],[2002.735,6],[2002.75,5],[2002.78,6.5],[2002.82,7],[2002.85,6.5],[2002.87,8],[2002.90,7.5],[2002.92,9],[2002.96,8.5],[2003.0,10],[2003.02,9.5],[2003.06,11],[2003.10,10],[2003.12,11.5],[2003.15,12],[2003.17,13],[2003.20,12.5],[2003.22,14.5],[2003.25,13],[2003.27,12],[2003.29,7],[2003.30,3],[2003.34,0.8],[2003.38,1.2],[2003.42,1],[2003.47,1.8],[2003.52,1.5],[2003.55,2.5],[2003.57,3],[2003.60,5],[2003.62,8],[2003.64,10],[2003.67,9],[2003.70,8],[2003.73,6.5],[2003.77,6],[2003.80,7.5],[2003.83,6.5],[2003.87,7],[2003.90,9],[2003.93,8.5],[2003.97,12],[2004.0,11],[2004.03,14],[2004.05,13.5],[2004.07,16],[2004.10,15.5],[2004.12,18],[2004.14,20],[2004.17,19],[2004.20,21],[2004.22,19],[2004.24,17],[2004.27,10],[2004.30,1],[2004.34,0.7],[2004.37,0.8],[2004.42,1.2],[2004.47,1.5],[2004.52,2.5],[2004.57,3],[2004.60,4],[2004.63,6],[2004.67,8],[2004.70,6],[2004.72,5],[2004.76,6.5],[2004.80,7],[2004.82,8],[2004.86,8.5],[2004.90,9.5],[2004.92,10],[2004.96,11],[2005.0,11.5],[2005.02,12],[2005.06,14],[2005.09,16],[2005.12,18.7],[2005.15,17.5],[2005.17,18],[2005.20,16.5],[2005.22,16],[2005.25,13],[2005.27,10],[2005.30,5],[2005.32,3],[2005.37,0.5],[2005.42,0.8],[2005.47,1],[2005.52,1.5],[2005.57,2],[2005.60,3.5],[2005.62,5],[2005.66,7],[2005.70,9.5],[2005.73,7],[2005.77,5],[2005.80,6],[2005.84,6.5],[2005.87,7],[2005.91,8],[2005.94,8.5],[2005.97,9],[2006.01,10],[2006.04,10.5],[2006.07,11],[2006.10,12],[2006.14,12.5],[2006.17,13],[2006.20,14],[2006.24,14.5],[2006.26,12],[2006.28,10],[2006.30,5],[2006.32,2],[2006.37,0.5],[2006.42,0.8],[2006.47,1],[2006.52,2],[2006.57,3],[2006.60,5],[2006.64,7],[2006.67,6],[2006.70,5],[2006.74,6.5],[2006.78,8],[2006.82,9],[2006.85,11],[2006.88,12],[2006.92,14],[2006.95,16],[2006.97,18],[2007.0,20],[2007.02,21],[2007.04,22.5],[2007.07,21],[2007.10,23],[2007.12,21],[2007.14,20],[2007.17,23],[2007.19,25],[2007.22,22],[2007.24,20],[2007.27,14],[2007.29,10],[2007.32,1],[2007.35,1.5],[2007.37,2],[2007.40,2.5],[2007.42,2],[2007.47,1.8],[2007.52,2],[2007.57,3.5],[2007.62,5],[2007.67,6],[2007.72,7],[2007.77,8],[2007.82,9],[2007.87,10],[2007.92,11],[2007.97,12],[2008.02,13],[2008.05,14],[2008.07,15],[2008.10,16],[2008.12,17],[2008.15,17.5],[2008.17,18],[2008.20,19],[2008.22,20],[2008.25,18.5],[2008.27,17],[2008.29,12],[2008.30,8],[2008.34,1],[2008.38,1.2],[2008.42,1.5],[2008.47,2],[2008.52,3],[2008.57,4],[2008.62,5],[2008.67,4],[2008.72,3],[2008.77,4],[2008.82,5],[2008.87,7],[2008.92,9],[2008.96,11],[2009.0,13],[2009.02,14],[2009.05,14.5],[2009.07,15],[2009.10,18],[2009.12,22],[2009.15,21],[2009.17,23],[2009.20,24],[2009.23,23],[2009.25,21],[2009.27,22.5],[2009.30,20],[2009.32,18],[2009.34,6],[2009.37,1],[2009.42,1.5],[2009.47,1.8],[2009.52,2],[2009.57,2.5],[2009.62,3],[2009.67,4],[2009.72,5],[2009.77,5.5],[2009.82,6],[2009.86,7],[2009.90,10],[2009.92,11]];
const hbDipCb2 = [[2001.94,12],[2001.97,14.5],[2002.0,8.5],[2002.02,11],[2002.04,12],[2002.055,9],[2002.07,16],[2002.085,13],[2002.10,10],[2002.12,15],[2002.14,19],[2002.155,16],[2002.17,21],[2002.185,14],[2002.20,11],[2002.22,15],[2002.24,17],[2002.255,13],[2002.27,11],[2002.29,5],[2002.30,1],[2002.32,0.3],[2002.35,1],[2002.37,1.5],[2002.40,3],[2002.42,4.5],[2002.45,2.5],[2002.47,2],[2002.50,3],[2002.52,3],[2002.55,2],[2002.57,2],[2002.60,3.5],[2002.62,4],[2002.66,4.5],[2002.69,5.5],[2002.72,5],[2002.75,6],[2002.78,7],[2002.82,8],[2002.85,10],[2002.88,9],[2002.92,11],[2002.95,10],[2002.97,9],[2003.0,11],[2003.02,12],[2003.05,13],[2003.07,15],[2003.09,18],[2003.10,23],[2003.12,17],[2003.14,14],[2003.155,16],[2003.17,19],[2003.19,15],[2003.22,12],[2003.245,9],[2003.27,8],[2003.30,7],[2003.32,6],[2003.35,2],[2003.38,1.8],[2003.42,1.5],[2003.47,1.2],[2003.52,1],[2003.57,1.5],[2003.62,2],[2003.67,3.5],[2003.72,5],[2003.75,7],[2003.77,9],[2003.80,10],[2003.82,11.5],[2003.85,10],[2003.87,9],[2003.90,11],[2003.92,12],[2003.95,16],[2003.97,22.3],[2004.0,19],[2004.02,18],[2004.05,21],[2004.07,22],[2004.09,19],[2004.12,20],[2004.145,16],[2004.17,17],[2004.20,16],[2004.22,15],[2004.245,12],[2004.27,9],[2004.29,4],[2004.30,1.5],[2004.34,1.2],[2004.37,1.5],[2004.40,2],[2004.42,2],[2004.46,3.5],[2004.50,5],[2004.53,4],[2004.57,3],[2004.62,4],[2004.67,5],[2004.72,6.5],[2004.77,8],[2004.82,9],[2004.85,10],[2004.87,11],[2004.90,13],[2004.92,15],[2004.95,17],[2004.97,18],[2005.0,16],[2005.02,17],[2005.05,18.5],[2005.07,19],[2005.10,18],[2005.12,20.5],[2005.145,15],[2005.17,13],[2005.20,11],[2005.22,9],[2005.25,7],[2005.27,5],[2005.30,3],[2005.32,2],[2005.36,1.2],[2005.40,1],[2005.44,2],[2005.47,3],[2005.52,2.5],[2005.57,2],[2005.62,3],[2005.67,4],[2005.72,5],[2005.77,6],[2005.82,8],[2005.87,10],[2005.90,12],[2005.92,15.5],[2005.945,13],[2005.97,12],[2006.0,13],[2006.02,14],[2006.045,15],[2006.07,17],[2006.095,16],[2006.12,15],[2006.145,14.5],[2006.17,14],[2006.195,13.5],[2006.22,13],[2006.245,10],[2006.27,8],[2006.30,6],[2006.32,4],[2006.35,2],[2006.37,1],[2006.44,1],[2006.48,2],[2006.52,3],[2006.57,4],[2006.62,5],[2006.67,6.5],[2006.72,8],[2006.76,10],[2006.80,12],[2006.83,13.5],[2006.87,15],[2006.90,16.5],[2006.92,18],[2006.95,20],[2006.97,21.5],[2007.0,19],[2007.02,15],[2007.045,19],[2007.07,22],[2007.095,16],[2007.12,10],[2007.145,9],[2007.17,8],[2007.20,6],[2007.22,5],[2007.25,4],[2007.27,3],[2007.30,3.5],[2007.32,4],[2007.35,3.5],[2007.37,3],[2007.42,2.8],[2007.47,2.5],[2007.52,4.5],[2007.55,3.5],[2007.57,3],[2007.62,4],[2007.67,5],[2007.72,6.5],[2007.77,8],[2007.80,9],[2007.82,10],[2007.85,12],[2007.87,15],[2007.90,16.5],[2007.92,18],[2007.95,20],[2007.97,22],[2008.0,23],[2008.02,24.5],[2008.045,21],[2008.07,20],[2008.095,22],[2008.12,23.5],[2008.145,20],[2008.17,18],[2008.195,14],[2008.22,12],[2008.245,10],[2008.27,8],[2008.30,6],[2008.32,4],[2008.35,3],[2008.37,2],[2008.42,1.5],[2008.47,1.8],[2008.52,2],[2008.55,3.5],[2008.57,5.5],[2008.60,4],[2008.62,3],[2008.67,4],[2008.72,6],[2008.77,8],[2008.82,10],[2008.87,12],[2008.90,13.5],[2008.92,15],[2008.95,12],[2008.97,10],[2009.0,14],[2009.02,17],[2009.04,19.7],[2009.07,15],[2009.10,12],[2009.12,14],[2009.145,15],[2009.17,16],[2009.195,17],[2009.22,17.5],[2009.245,14],[2009.27,12],[2009.30,8],[2009.32,6],[2009.35,5],[2009.37,4],[2009.42,3],[2009.47,2.5],[2009.52,3.5],[2009.57,3.8],[2009.62,4],[2009.67,5],[2009.72,6],[2009.75,8],[2009.77,10],[2009.80,12],[2009.82,13.5],[2009.85,14],[2009.87,14.3],[2009.90,13],[2009.92,12]];
const hbDipObsCb1 = [[2008.62,6.8],[2008.52,1.3],[2009.52,3.1],[2009.60,1.9]];
const hbDipObsCb2 = [[2008.52,1.5],[2008.62,0.6],[2009.52,0.95],[2009.62,0.35]];

// ---- styling ----
const CYAN = 'rgba(40,185,190,0.6)';
const RED = 'rgba(200,60,60,0.65)';
const OBS_BLUE = '#15588a';
const OBS_RED = '#c00000';

Chart.defaults.font.family = '"Liberation Serif", serif';
Chart.defaults.color = '#111';

// filled X marker with a thin white cross, used as point image
function makeXMarker() {
    const c = document.createElement('canvas');
    c.width = 13; c.height = 13;
    const g = c.getContext('2d');
    g.strokeStyle = OBS_BLUE; g.lineWidth = 4.5;
    g.beginPath(); g.moveTo(2.5, 2.5); g.lineTo(10.5, 10.5); g.moveTo(10.5, 2.5); g.lineTo(2.5, 10.5); g.stroke();
    g.strokeStyle = '#fff'; g.lineWidth = 1.3;
    g.beginPath(); g.moveTo(4, 4); g.lineTo(9, 9); g.moveTo(9, 4); g.lineTo(4, 9); g.stroke();
    return c;
}
const xMarker = makeXMarker();

const toXY = arr => arr.map(([x, y]) => ({ x, y }));

function modelSet(arr, color, order) {
    return { data: toXY(arr), showLine: true, borderColor: color, borderWidth: 3, pointRadius: 0,
             borderJoinStyle: 'round', borderCapStyle: 'round', tension: 0, order };
}
function obsSet(arr, kind) {
    if (kind === 'x') {
        return { data: toXY(arr), showLine: false, pointStyle: xMarker, pointRadius: 6, order: 0 };
    }
    return { data: toXY(arr), showLine: false, pointStyle: 'circle', pointRadius: 4.8, borderWidth: 2,
             borderColor: OBS_RED, backgroundColor: 'rgba(0,0,0,0)', order: 1 };
}

// black box round the plot area plus monthly minor ticks
const framePlugin = {
    id: 'frame',
    afterDatasetsDraw(chart) {
        const { ctx, chartArea: a } = chart;
        const sx = chart.scales.x;
        ctx.save();
        ctx.strokeStyle = '#000';
        ctx.lineWidth = 0.9;
        ctx.beginPath();
        for (let yr = Math.floor(sx.min); yr <= Math.ceil(sx.max); yr++) {
            for (let m = 1; m < 12; m++) {
                const v = yr + m / 12;
                if (v < sx.min || v > sx.max) continue;
                const px = Math.round(sx.getPixelForValue(v)) + 0.5;
                ctx.moveTo(px, a.bottom); ctx.lineTo(px, a.bottom + 3.5);
            }
        }
        ctx.stroke();
        ctx.lineWidth = 1.3;
        ctx.strokeRect(a.left, a.top, a.right - a.left, a.bottom - a.top);
        ctx.restore();
    }
};

const PAD_L = 62, PAD_T = 12, PAD_R = 15, PAD_B = 52;

function makePanel(p) {
    const [l, r, t, b] = p.area;
    const cv = document.createElement('canvas');
    cv.width = r - l + PAD_L + PAD_R;
    cv.height = b - t + PAD_T + PAD_B;
    cv.style.left = (l - PAD_L) + 'px';
    cv.style.top = (t - PAD_T) + 'px';
    document.body.appendChild(cv);

    const grid = { color: '#bcbcbc', lineWidth: 1, tickColor: '#000', tickLength: 6, drawTicks: true };
    new Chart(cv, {
        type: 'scatter',
        data: { datasets: p.sets },
        options: {
            animation: false, responsive: false, devicePixelRatio: 1, events: [],
            layout: { padding: { left: 0, top: PAD_T, right: PAD_R, bottom: 0 } },
            plugins: { legend: { display: false }, tooltip: { enabled: false } },
            scales: {
                x: {
                    type: 'linear', min: p.x[0], max: p.x[1],
                    afterBuildTicks: s => { s.ticks = p.xt.map(v => ({ value: v })); },
                    afterFit: s => { s.height = PAD_B; s.paddingLeft = 0; s.paddingRight = 0; },
                    ticks: { callback: v => String(v), font: { size: 15 }, color: '#222', padding: 5,
                             maxRotation: 0, autoSkip: false },
                    grid, border: { display: false },
                    title: { display: p.xTitle !== false, text: 'Date', font: { size: 18 }, color: '#111', padding: 0 }
                },
                y: {
                    type: 'linear', position: 'left', min: p.y[0], max: p.y[1],
                    afterBuildTicks: s => { s.ticks = p.yt.map(v => ({ value: v })); },
                    afterFit: s => { s.width = PAD_L; s.paddingTop = 0; s.paddingBottom = 0; },
                    ticks: { callback: v => String(v), font: { size: 15 }, color: '#222', padding: 8 },
                    grid, border: { display: false }
                }
            }
        },
        plugins: [framePlugin]
    });
}

const topX = [2001.25, 2005.055];
const botX = [2001.93, 2009.92];

makePanel({ area: [65, 331, 54, 379], x: topX, xt: topYears, y: [-1.14, 28.95], yt: asChlTicks, xTitle: false,
    sets: [obsSet(asChlObsCb1, 'x'), obsSet(asChlObsCb2, 'o'), modelSet(asChlCb2, RED, 2), modelSet(asChlCb1, CYAN, 3)] });
makePanel({ area: [411, 677, 54, 380], x: topX, xt: topYears, y: [-15, 311], yt: asDinTicks,
    sets: [obsSet(asDinObsCb1, 'x'), obsSet(asDinObsCb2, 'o'), modelSet(asDinCb2, RED, 2), modelSet(asDinCb1, CYAN, 3)] });
makePanel({ area: [757, 1023, 54, 379], x: topX, xt: topYears, y: [-1.58, 35], yt: asDipTicks,
    sets: [obsSet(asDipObsCb1, 'x'), obsSet(asDipObsCb2, 'o'), modelSet(asDipCb2, RED, 2), modelSet(asDipCb1, CYAN, 3)] });
makePanel({ area: [65, 331, 444, 770], x: botX, xt: bottomYears, y: [-1.8, 44.5], yt: hbChlTicks,
    sets: [obsSet(hbChlObsCb1, 'x'), obsSet(hbChlObsCb2, 'o'), modelSet(hbChlCb1, CYAN, 2), modelSet(hbChlCb2, RED, 3)] });
makePanel({ area: [411, 677, 444, 770], x: botX, xt: bottomYears, y: [-10.9, 236.7], yt: hbDinTicks,
    sets: [obsSet(hbDinObsCb1, 'x'), obsSet(hbDinObsCb2, 'o'), modelSet(hbDinCb1, CYAN, 2), modelSet(hbDinCb2, RED, 3)] });
makePanel({ area: [757, 1023, 444, 770], x: botX, xt: bottomYears, y: [-0.91, 26.14], yt: hbDipTicks,
    sets: [obsSet(hbDipObsCb1, 'x'), obsSet(hbDipObsCb2, 'o'), modelSet(hbDipCb1, CYAN, 2), modelSet(hbDipCb2, RED, 3)] });
</script>
</body>
</html>
